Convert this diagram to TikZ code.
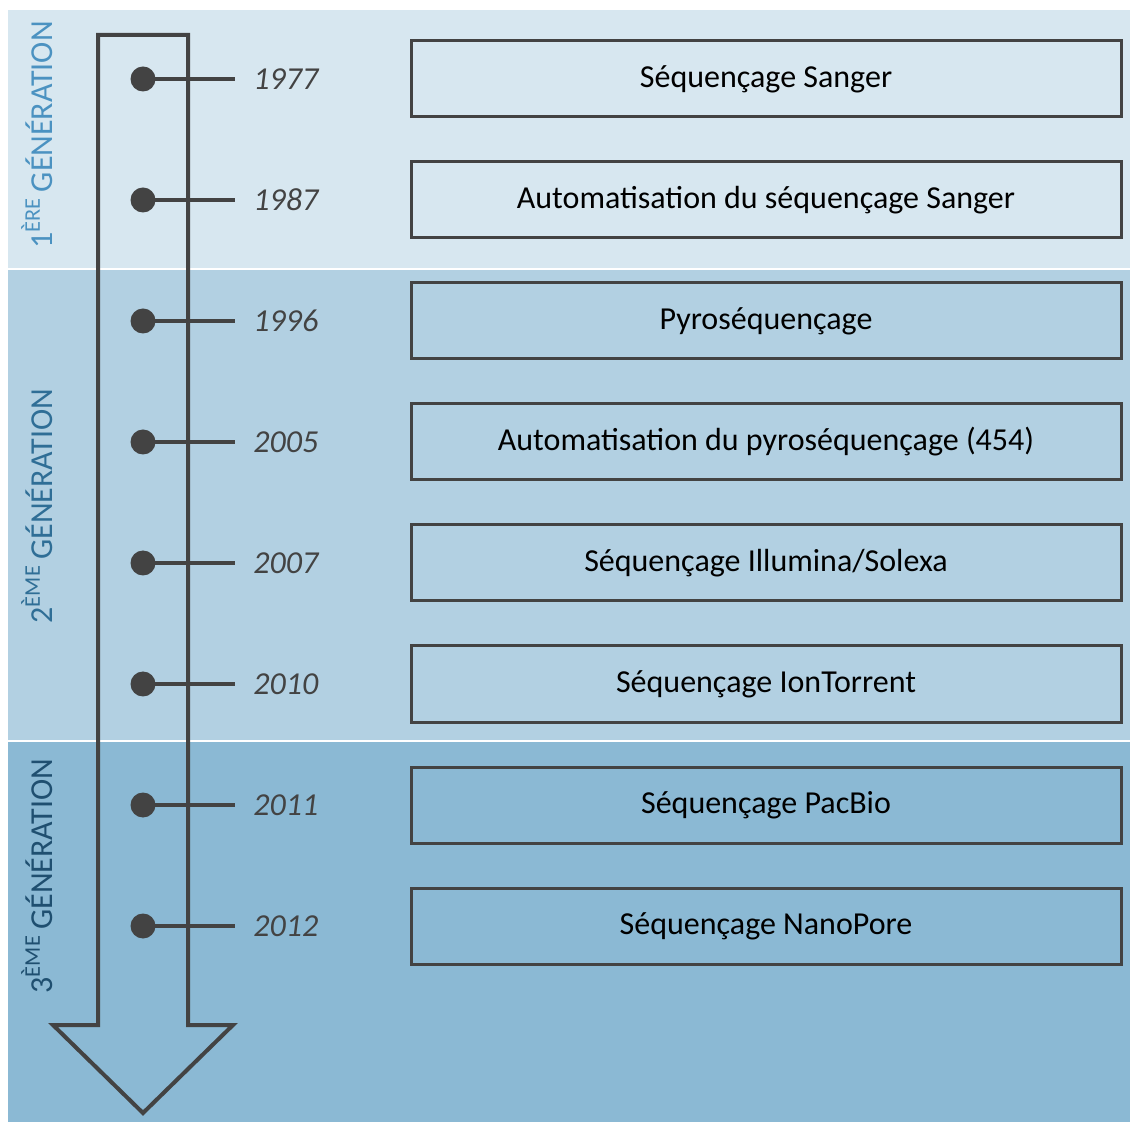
\documentclass[tikz,border=0pt]{standalone}
\usepackage{fontspec}
\setmainfont{Carlito}
\usepackage{xcolor}
\usetikzlibrary{positioning}
\definecolor{bandA}{HTML}{D7E7F0}
\definecolor{bandB}{HTML}{B2D0E2}
\definecolor{bandC}{HTML}{8BB9D4}
\definecolor{genA}{HTML}{4B92C1}
\definecolor{genB}{HTML}{2F6E96}
\definecolor{genC}{HTML}{1F4F70}
\definecolor{ink}{HTML}{434343}

\begin{document}
\begin{tikzpicture}[
  x=0.5pt, y=-0.5pt,
  evt/.style={rectangle, draw=ink, line width=1.5pt, fill=none,
              minimum width=355pt, minimum height=38pt, inner sep=0pt,
              font=\fontsize{16}{18}\selectfont, text=black},
  dot/.style={circle, fill=ink, minimum size=12.5pt, inner sep=0pt},
  yr/.style={anchor=west, inner xsep=9pt, inner ysep=0pt,
             font=\fontsize{16}{18}\selectfont\itshape, text=ink},
  tick/.style={draw=ink, line width=2pt},
  gen/.style={rotate=90, font=\fontsize{16}{18}\selectfont},
]
 \useasboundingbox (0,0) rectangle (1130,1122);

 % Generation bands
 \fill[bandA] (8,10) rectangle (1130,268);
 \fill[bandB] (8,270) rectangle (1130,740);
 \fill[bandC] (8,742) rectangle (1130,1122);

 % Time arrow
 \draw[ink, line width=2pt, line join=miter]
   (98,35) -- (188,35) -- (188,1025) -- (233,1025) -- (143,1113)
   -- (53,1025) -- (98,1025) -- cycle;

 % Events
 \node[dot] (d1) at (143,79) {};
 \node[yr] (y1) at (235,79) {1977};
 \node[evt] (e1) at (766,79) {Séquençage Sanger};
 \draw[tick] (d1.center) -- (y1.west);

 \node[dot] (d2) at (143,200) {};
 \node[yr] (y2) at (235,200) {1987};
 \node[evt] (e2) at (766,200) {Automatisation du séquençage Sanger};
 \draw[tick] (d2.center) -- (y2.west);

 \node[dot] (d3) at (143,321) {};
 \node[yr] (y3) at (235,321) {1996};
 \node[evt] (e3) at (766,321) {Pyroséquençage};
 \draw[tick] (d3.center) -- (y3.west);

 \node[dot] (d4) at (143,442) {};
 \node[yr] (y4) at (235,442) {2005};
 \node[evt] (e4) at (766,442) {Automatisation du pyroséquençage (454)};
 \draw[tick] (d4.center) -- (y4.west);

 \node[dot] (d5) at (143,563) {};
 \node[yr] (y5) at (235,563) {2007};
 \node[evt] (e5) at (766,563) {Séquençage Illumina/Solexa};
 \draw[tick] (d5.center) -- (y5.west);

 \node[dot] (d6) at (143,684) {};
 \node[yr] (y6) at (235,684) {2010};
 \node[evt] (e6) at (766,684) {Séquençage IonTorrent};
 \draw[tick] (d6.center) -- (y6.west);

 \node[dot] (d7) at (143,805) {};
 \node[yr] (y7) at (235,805) {2011};
 \node[evt] (e7) at (766,805) {Séquençage PacBio};
 \draw[tick] (d7.center) -- (y7.west);

 \node[dot] (d8) at (143,926) {};
 \node[yr] (y8) at (235,926) {2012};
 \node[evt] (e8) at (766,926) {Séquençage NanoPore};
 \draw[tick] (d8.center) -- (y8.west);

 % Generation labels
 \node[gen, text=genA] (g1) at (37,135) {1\textsuperscript{ÈRE}\,GÉNÉRATION};
 \node[gen, text=genB] (g2) at (37,506) {2\textsuperscript{ÈME}\,GÉNÉRATION};
 \node[gen, text=genC] (g3) at (37,876) {3\textsuperscript{ÈME}\,GÉNÉRATION};
\end{tikzpicture}
\end{document}
